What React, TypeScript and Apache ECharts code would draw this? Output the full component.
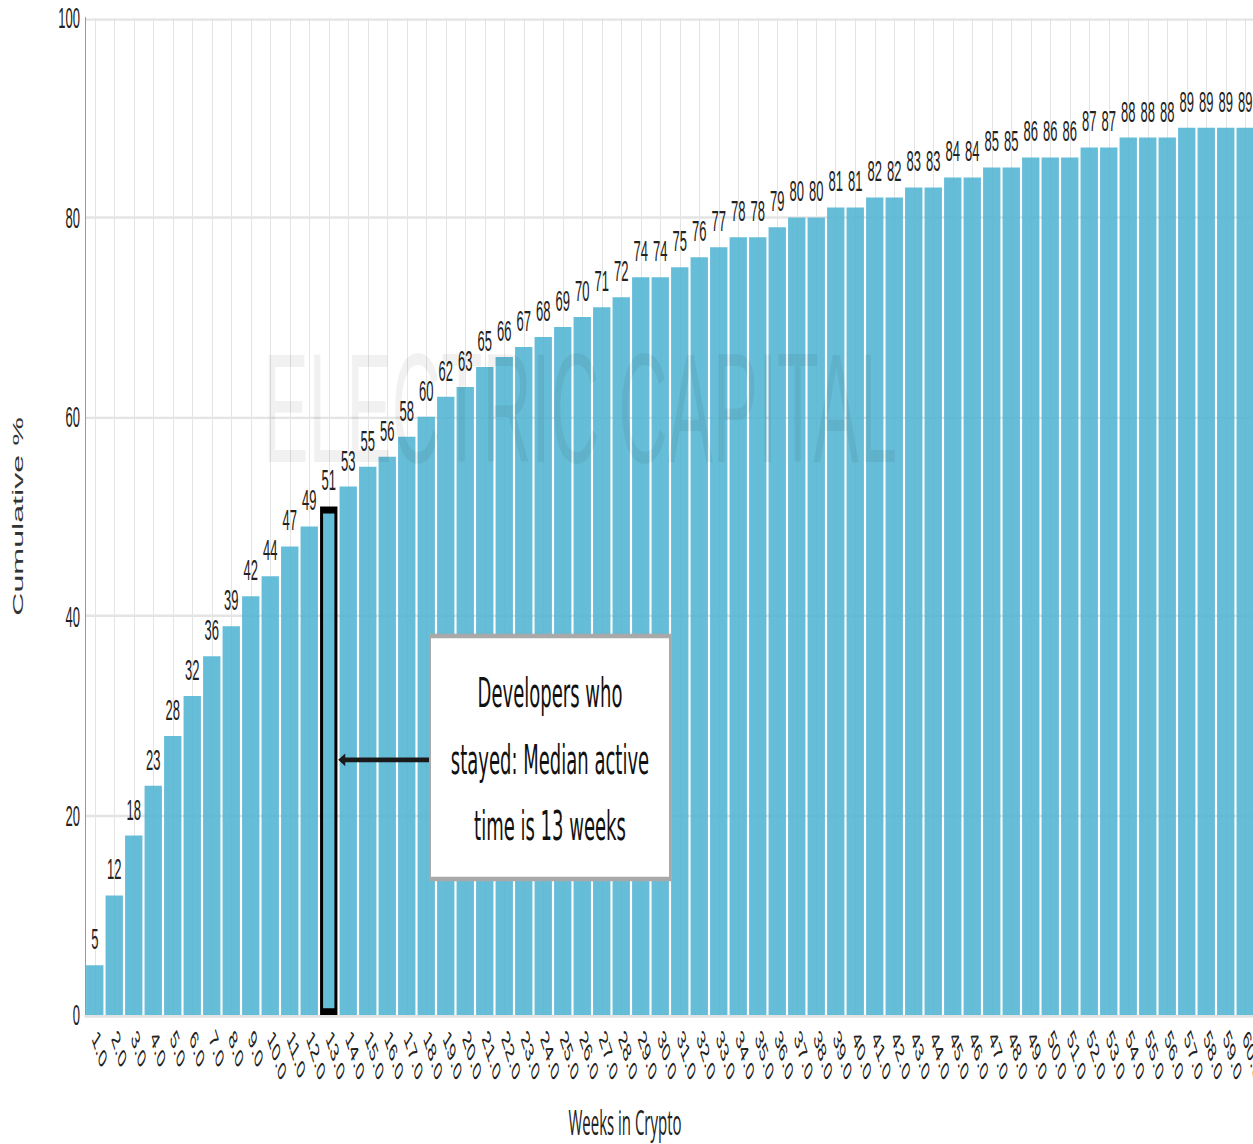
import React, { useEffect, useRef } from "react";
import * as echarts from "echarts";

const weeks = [
  "1.0", "2.0", "3.0", "4.0", "5.0", "6.0", "7.0", "8.0", "9.0", "10.0",
  "11.0", "12.0", "13.0", "14.0", "15.0", "16.0", "17.0", "18.0", "19.0", "20.0",
  "21.0", "22.0", "23.0", "24.0", "25.0", "26.0", "27.0", "28.0", "29.0", "30.0",
  "31.0", "32.0", "33.0", "34.0", "35.0", "36.0", "37.0", "38.0", "39.0", "40.0",
  "41.0", "42.0", "43.0", "44.0", "45.0", "46.0", "47.0", "48.0", "49.0", "50.0",
  "51.0", "52.0", "53.0", "54.0", "55.0", "56.0", "57.0", "58.0", "59.0", "60.0",
];

const cumulative = [
  5, 12, 18, 23, 28, 32, 36, 39, 42, 44,
  47, 49, 51, 53, 55, 56, 58, 60, 62, 63,
  65, 66, 67, 68, 69, 70, 71, 72, 74, 74,
  75, 76, 77, 78, 78, 79, 80, 80, 81, 81,
  82, 82, 83, 83, 84, 84, 85, 85, 86, 86,
  86, 87, 87, 88, 88, 88, 89, 89, 89, 89,
];

const yMin = 0;
const yMax = 100;
const yStep = 20;

const medianWeek = "13.0";
const arrowValue = 25.6;
const annotationLines = ["Developers who", "stayed: Median active", "time is 13 weeks"];
const watermark = "ELECTRIC CAPITAL";
const xTitle = "Weeks in Crypto";
const yTitle = "Cumulative %";

const H0 = 497;
const SCALE_Y = 1144 / H0;
const FONT = "'Liberation Sans', Arial, Helvetica, sans-serif";
const ANN_FONT = "'DejaVu Sans', 'Noto Sans', sans-serif";
const TITLE_FONT = "'Open Sans', 'Noto Sans', sans-serif";

export default function App() {
  const ref = useRef<HTMLDivElement>(null);

  useEffect(() => {
    if (!ref.current) return;
    const chart = echarts.init(ref.current, undefined, { renderer: "svg" });

    const option: any = {
      animation: false,
      backgroundColor: "#ffffff",
      grid: { left: 85, top: 7.8, width: 1170, height: 433.2, containLabel: false },
      xAxis: {
        type: "category",
        data: weeks,
        boundaryGap: true,
        axisLine: { show: true, lineStyle: { color: "#e2e2e2", width: 1 } },
        axisTick: { show: false },
        axisLabel: {
          interval: 0,
          rotate: -55,
          margin: 8,
          fontSize: 12,
          color: "#222",
          fontFamily: FONT,
        },
        splitLine: {
          show: true,
          interval: 0,
          alignWithLabel: true,
          lineStyle: { color: "#e4e4e4", width: 1 },
        },
      },
      yAxis: {
        type: "value",
        min: yMin,
        max: yMax,
        interval: yStep,
        name: yTitle,
        nameLocation: "middle",
        nameGap: 60,
        nameTextStyle: { fontSize: 14, color: "#333", fontFamily: FONT },
        axisLine: { show: true, lineStyle: { color: "#999", width: 1 } },
        axisTick: { show: false },
        axisLabel: { margin: 5, fontSize: 13, color: "#222", fontFamily: FONT },
        splitLine: { show: true, lineStyle: { color: "#e4e4e4", width: 1 } },
      },
      series: [
        {
          type: "bar",
          data: cumulative.map((v, i) =>
            weeks[i] === medianWeek
              ? { value: v, itemStyle: { borderColor: "#000", borderWidth: 3 } }
              : v
          ),
          barCategoryGap: "11%",
          itemStyle: { color: "rgba(79,179,209,0.87)" },
          label: {
            show: true,
            position: "top",
            distance: 5,
            fontSize: 13,
            color: "#222",
            fontFamily: FONT,
          },
          z: 2,
        },
      ],
    };
    chart.setOption(option);

    const idx = weeks.indexOf(medianWeek);
    const p = chart.convertToPixel({ gridIndex: 0 }, [idx, arrowValue]) as number[];
    const tipX = p[0] + 9.5;
    const tipY = p[1];
    const boxX = 430;
    const boxY = 276.3;
    const boxW = 240;
    const boxH = 105.6;
    const lineYs = [301.1, 330.2, 358.9];

    const graphics: any[] = [
      {
        type: "text",
        x: 580,
        y: 177.4,
        z: 50,
        silent: true,
        style: {
          text: watermark,
          fontSize: 68,
          fontFamily: FONT,
          fill: "rgba(0,0,0,0.055)",
          align: "center",
          verticalAlign: "middle",
        },
      },
      {
        type: "line",
        z: 60,
        shape: { x1: boxX, y1: tipY, x2: tipX + 5, y2: tipY },
        style: { stroke: "#1a1a1a", lineWidth: 2 },
      },
      {
        type: "polygon",
        z: 61,
        shape: {
          points: [
            [tipX, tipY],
            [tipX + 7, tipY - 2.8],
            [tipX + 7, tipY + 2.8],
          ],
        },
        style: { fill: "#1a1a1a" },
      },
      {
        type: "rect",
        z: 70,
        shape: { x: boxX, y: boxY, width: boxW, height: boxH },
        style: { fill: "#ffffff", stroke: "#a9a9a9", lineWidth: 2 },
      },
      ...annotationLines.map((t, i) => ({
        type: "text",
        z: 71,
        x: boxX + boxW / 2,
        y: lineYs[i],
        style: {
          text: t,
          fontSize: 18,
          fontFamily: ANN_FONT,
          fill: "#111",
          align: "center",
          verticalAlign: "middle",
        },
      })),
      {
        type: "text",
        z: 71,
        x: 625,
        y: 487.5,
        style: {
          text: xTitle,
          fontSize: 15,
          fontFamily: TITLE_FONT,
          fill: "#222",
          align: "center",
          verticalAlign: "middle",
        },
      },
    ];
    chart.setOption({ graphic: graphics });

    return () => chart.dispose();
  }, []);

  return (
    <div
      style={{
        position: "fixed",
        left: 0,
        top: 0,
        width: 1253,
        height: 1144,
        overflow: "hidden",
        background: "#fff",
      }}
    >
      <div
        ref={ref}
        style={{
          width: 1300,
          height: H0,
          transform: `scaleY(${SCALE_Y})`,
          transformOrigin: "0 0",
        }}
      />
    </div>
  );
}
